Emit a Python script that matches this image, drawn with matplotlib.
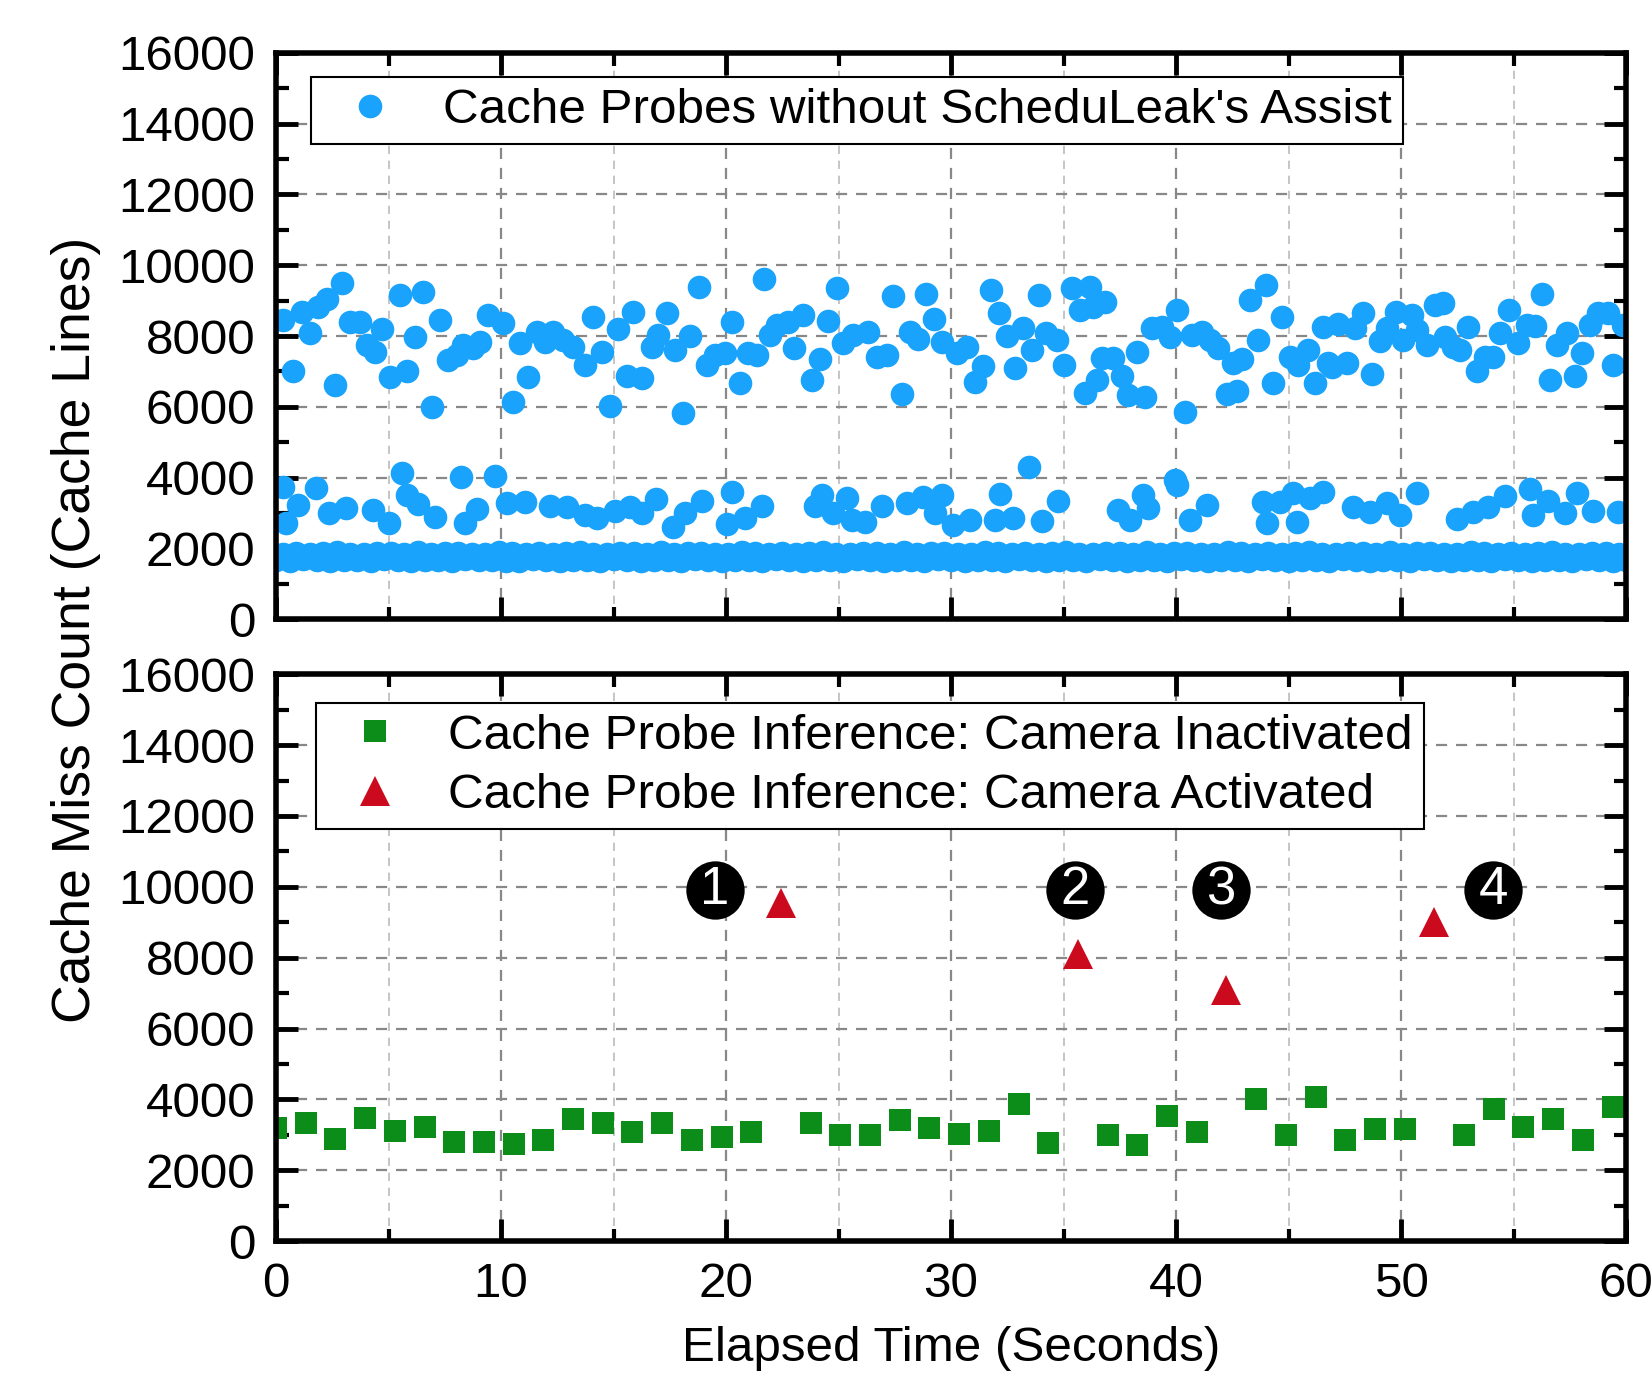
import matplotlib
matplotlib.use("Agg")
import matplotlib.pyplot as plt
from matplotlib.ticker import MultipleLocator


# --- data (time in s, counts in cache lines) ---
upper_time = [0.33, 0.77, 1.14, 1.51, 1.88, 2.25, 2.62, 2.92, 3.29, 3.73, 4.03, 4.40, 4.70, 5.07,
              5.51, 5.81, 6.18, 6.55, 6.92, 7.29, 7.66, 8.03, 8.33, 8.77, 9.07, 9.44, 10.10, 10.55,
              10.84, 11.21, 11.59, 11.96, 12.33, 12.77, 13.20, 13.73, 14.10, 14.47, 14.84, 15.20,
              15.60, 15.88, 16.25, 16.69, 16.99, 17.36, 17.73, 18.10, 18.40, 18.80, 19.17, 19.51,
              19.96, 20.25, 20.62, 20.99, 21.36, 21.69, 21.96, 22.25, 22.77, 23.00, 23.44, 23.80,
              24.18, 24.55, 24.92, 25.21, 25.66, 26.32, 26.70, 27.14, 27.44, 27.81, 28.18, 28.55,
              28.89, 29.24, 29.59, 30.25, 30.70, 31.07, 31.40, 31.76, 32.15, 32.50, 32.84, 33.21,
              33.58, 33.91, 34.24, 34.70, 35.02, 35.36, 35.73, 35.96, 36.17, 36.30, 36.47, 36.70,
              36.84, 37.21, 37.58, 37.88, 38.25, 38.62, 38.92, 39.37, 39.73, 40.03, 40.40, 40.70,
              41.14, 41.51, 41.88, 42.25, 42.55, 42.70, 42.92, 43.29, 43.66, 44.00, 44.33, 44.70,
              45.07, 45.44, 45.88, 46.17, 46.55, 46.77, 46.92, 47.21, 47.58, 47.95, 48.33, 48.70,
              49.07, 49.36, 49.78, 50.10, 50.47, 50.70, 51.14, 51.51, 51.87, 51.95, 52.33, 52.62,
              52.99, 53.36, 53.73, 54.10, 54.40, 54.81, 55.21, 55.58, 55.96, 56.26, 56.62, 56.95,
              57.36, 57.73, 58.03, 58.40, 58.77, 59.21, 59.44, 59.88]
upper_count = [8450, 7020, 8680, 8090, 8830, 9060, 6620, 9510, 8400, 8400, 7750, 7560, 8200, 6830,
               9160, 7020, 7960, 9230, 6010, 8450, 7320, 7460, 7750, 7650, 7840, 8590, 8360, 6150,
               7790, 6830, 8120, 7840, 8120, 7890, 7700, 7180, 8550, 7560, 6030, 8200,
               6860, 8670, 6810, 7700, 8030, 8640, 7610, 5840, 8000, 9390, 7180, 7460,
               7510, 8400, 6680, 7510, 7460, 9600, 8030, 8310, 8400, 7650, 8590, 6760,
               7340, 8430, 9350, 7790, 8030, 8120, 7420, 7460, 9130, 6360, 8120, 7930,
               9190, 8470, 7840, 7510, 7700, 6710, 7150, 9300, 8660, 8000, 7090, 8220,
               7610, 9160, 8080, 7890, 7180, 9370, 8730, 6380, 9390, 8830, 6760, 7370,
               8970, 7370, 6860, 6340, 7560, 6290, 8220, 8260, 7960, 8730, 5860, 8030,
               8120, 7890, 7650, 6360, 7230, 6460, 7340, 9020, 7890, 9440, 6680, 8550,
               7420, 7180, 7610, 6670, 8250, 7230, 7140, 8340, 7250, 8220, 8640, 6930,
               7870, 8220, 8690, 7890, 8590, 8170, 7750, 8880, 8940, 7980, 7700, 7610,
               8250, 7020, 7420, 7420, 8090, 8730, 7790, 8310, 8280, 9190, 6760, 7750,
               8080, 6870, 7510, 8310, 8640, 8640, 7180, 8310]

middle_time = [0.33, 0.44, 0.99, 1.78, 2.37, 3.11, 4.33, 5.00, 5.58, 5.81, 6.33, 7.07, 8.21, 8.40,
               8.95, 9.73, 10.25, 11.07, 12.18, 12.92, 13.73, 14.25, 15.07, 15.73, 16.25, 16.89,
               17.66, 18.18, 18.92, 20.03, 20.28, 20.84, 21.59, 23.96, 24.25, 24.77, 25.36, 25.59,
               26.18, 26.92, 28.03, 28.77, 29.29, 29.59, 30.10, 30.84, 31.96, 32.18, 32.74, 33.48,
               34.03, 34.77, 37.44, 37.96, 38.55, 38.77, 39.96, 40.03, 40.62, 41.36, 43.88, 44.03,
               44.62, 45.21, 45.36, 45.96, 46.55, 47.88, 48.62, 49.36, 49.96, 50.70, 52.47, 53.21,
               53.88, 54.62, 55.73, 55.88, 56.55, 57.29, 57.81, 58.55, 59.66]
middle_count = [3750, 2710, 3230, 3720, 3000, 3140, 3090, 2730, 4140, 3510, 3260, 2900, 4010, 2710,
                3110, 4050, 3280, 3310, 3200, 3180, 2950, 2850, 3060, 3180, 3000, 3390,
                2600, 3000, 3330, 2690, 3610, 2860, 3200, 3200, 3510, 3000, 3420, 2810,
                2760, 3200, 3300, 3460, 3000, 3510, 2670, 2810, 2810, 3530, 2850, 4310,
                2790, 3350, 3090, 2810, 3510, 3140, 3940, 3800, 2810, 3230, 3320, 2710,
                3320, 3560, 2760, 3420, 3610, 3160, 3040, 3280, 2950, 3560, 2830, 3040,
                3180, 3490, 3670, 2950, 3330, 3000, 3580, 3070, 3040]

# dense baseline band: a lower row and an upper row of samples
band_low_time = [0.0, 0.6, 1.2, 1.8, 2.4, 3.0, 3.6, 4.2, 4.8, 5.4, 6.0, 6.6, 7.2, 7.8, 8.4, 9.0,
                 9.6, 10.2, 10.8, 11.4, 12.0, 12.6, 13.2, 13.8, 14.4, 15.0, 15.6, 16.2, 16.8, 17.4,
                 18.0, 18.6, 19.2, 19.8, 20.4, 21.0, 21.6, 22.2, 22.8, 23.4, 24.0, 24.6, 25.2,
                 25.8, 26.4, 27.0, 27.6, 28.2, 28.8, 29.4, 30.0, 30.6, 31.2, 31.8, 32.4, 33.0,
                 33.6, 34.2, 34.8, 35.4, 36.0, 36.6, 37.2, 37.8, 38.4, 39.0, 39.6, 40.2, 40.8,
                 41.4, 42.0, 42.6, 43.2, 43.8, 44.4, 45.0, 45.6, 46.2, 46.8, 47.4, 48.0, 48.6,
                 49.2, 49.8, 50.4, 51.0, 51.6, 52.2, 52.8, 53.4, 54.0, 54.6, 55.2, 55.8, 56.4,
                 57.0, 57.6, 58.2, 58.8, 59.4, 60.0]
band_low_count = [1680, 1660, 1700, 1670, 1650, 1690, 1680, 1660, 1700, 1670, 1640, 1690, 1680,
                  1650, 1700, 1670, 1690, 1660, 1650, 1700, 1680, 1650, 1690, 1670, 1660, 1700,
                  1680, 1640, 1690, 1680, 1660, 1700, 1670, 1650, 1690, 1680, 1650, 1700, 1670,
                  1660, 1690, 1680, 1650, 1700, 1670, 1650, 1690, 1680, 1660, 1700, 1680, 1650,
                  1690, 1670, 1640, 1700, 1680, 1660, 1690, 1670, 1650, 1700, 1680, 1650, 1690,
                  1680, 1660, 1700, 1670, 1650, 1690, 1680, 1660, 1700, 1670, 1650, 1690, 1680,
                  1650, 1700, 1670, 1660, 1690, 1680, 1650, 1700, 1680, 1650, 1690, 1670, 1660,
                  1700, 1680, 1650, 1690, 1670, 1650, 1700, 1680, 1660, 1690]
band_high_time = [0.3, 0.9, 1.5, 2.1, 2.7, 3.3, 3.9, 4.5, 5.1, 5.7, 6.3, 6.9, 7.5, 8.1, 8.7, 9.3,
                  9.9, 10.5, 11.1, 11.7, 12.3, 12.9, 13.5, 14.1, 14.7, 15.3, 15.9, 16.5, 17.1,
                  17.7, 18.3, 18.9, 19.5, 20.1, 20.7, 21.3, 21.9, 22.5, 23.1, 23.7, 24.3, 24.9,
                  25.5, 26.1, 26.7, 27.3, 27.9, 28.5, 29.1, 29.7, 30.3, 30.9, 31.5, 32.1, 32.7,
                  33.3, 33.9, 34.5, 35.1, 35.7, 36.3, 36.9, 37.5, 38.1, 38.7, 39.3, 39.9, 40.5,
                  41.1, 41.7, 42.3, 42.9, 43.5, 44.1, 44.7, 45.3, 45.9, 46.5, 47.1, 47.7, 48.3,
                  48.9, 49.5, 50.1, 50.7, 51.3, 51.9, 52.5, 53.1, 53.7, 54.3, 54.9, 55.5, 56.1,
                  56.7, 57.3, 57.9, 58.5, 59.1, 59.7]
band_high_count = [1860, 1880, 1850, 1870, 1890, 1860, 1850, 1880, 1870, 1860, 1890, 1850, 1870,
                   1880, 1860, 1850, 1890, 1870, 1860, 1880, 1850, 1870, 1890, 1860, 1850, 1880,
                   1870, 1860, 1890, 1850, 1870, 1880, 1860, 1850, 1890, 1870, 1860, 1880, 1850,
                   1870, 1890, 1860, 1850, 1880, 1870, 1860, 1890, 1850, 1870, 1880, 1860, 1850,
                   1890, 1870, 1860, 1880, 1850, 1870, 1890, 1860, 1850, 1880, 1870, 1860, 1890,
                   1850, 1870, 1880, 1860, 1850, 1890, 1870, 1860, 1880, 1850, 1870, 1890, 1860,
                   1850, 1880, 1870, 1860, 1890, 1850, 1870, 1880, 1860, 1850, 1890, 1870, 1860,
                   1880, 1850, 1870, 1890, 1860, 1850, 1880, 1870, 1860]

inactive_time = [0.0, 1.32, 2.64, 3.96, 5.28, 6.60, 7.92, 9.24, 10.56, 11.88, 13.20, 14.52, 15.84,
                 17.16, 18.48, 19.80, 21.12, 23.76, 25.08, 26.40, 27.72, 29.04, 30.36, 31.68,
                 33.00, 34.32, 36.96, 38.28, 39.60, 40.92, 43.56, 44.88, 46.20, 47.52, 48.84,
                 50.16, 52.80, 54.12, 55.44, 56.76, 58.08, 59.40]
inactive_count = [3200, 3330, 2890, 3480, 3100, 3210, 2800, 2800, 2740, 2860, 3450, 3330, 3070,
                  3330, 2860, 2950, 3070, 3330, 3000, 3000, 3420, 3180, 3030, 3120,
                  3870, 2770, 3000, 2710, 3540, 3070, 4020, 3000, 4080, 2860, 3150,
                  3150, 3000, 3720, 3210, 3450, 2860, 3780]

active_time = [22.44, 35.64, 42.24, 51.48]
active_count = [9550, 8100, 7080, 9020]

event_time = [19.5, 35.5, 42.0, 54.1]
event_count = [9900, 9900, 9900, 9900]
event_labels = ["1", "2", "3", "4"]

BLUE = "#1AA3FC"
GREEN = "#0C8C18"
RED = "#CC0A1E"
FONT = 35.6

plt.rcParams['font.family'] = ['Liberation Sans', 'DejaVu Sans']


def style_axis(ax, show_xlabels):
    ax.set_xlim(0, 60)
    ax.set_ylim(0, 16000)
    ax.xaxis.set_major_locator(MultipleLocator(10))
    ax.xaxis.set_minor_locator(MultipleLocator(5))
    ax.yaxis.set_major_locator(MultipleLocator(2000))
    ax.yaxis.set_minor_locator(MultipleLocator(1000))
    ax.tick_params(which='both', direction='in', top=True, right=True, labelsize=FONT)
    ax.tick_params(which='major', length=16, width=3.5, pad=15)
    ax.tick_params(which='minor', length=9, width=3)
    ax.tick_params(axis='x', labelbottom=show_xlabels)
    ax.grid(True, which='major', linestyle=(0, (5, 4)), color='#888888', linewidth=1.6)
    ax.grid(True, which='minor', axis='x', linestyle=(0, (5, 4)), color='#BBBBBB', linewidth=1.2)
    ax.set_axisbelow(True)
    for sp in ax.spines.values():
        sp.set_linewidth(4)


def make_legend(ax, anchor, spacing):
    leg = ax.legend(loc='upper left', bbox_to_anchor=anchor, borderaxespad=0,
                    fontsize=FONT, frameon=True, fancybox=False, edgecolor='black',
                    framealpha=1, handletextpad=0.5, borderpad=0.22, handlelength=1.95,
                    labelspacing=spacing)
    leg.get_frame().set_linewidth(1.5)


fig = plt.figure(figsize=(16.52, 13.75), dpi=100)
ax_top = fig.add_axes([0.1671, 0.5495, 0.8172, 0.4122])
ax_bot = fig.add_axes([0.1671, 0.0974, 0.8172, 0.4122])

# top panel: probes without assistance
all_time = band_low_time + band_high_time + middle_time + upper_time
all_count = band_low_count + band_high_count + middle_count + upper_count
ax_top.plot(all_time, all_count, linestyle='none', marker='o', markersize=17, color=BLUE,
            markeredgewidth=0, label="Cache Probes without ScheduLeak's Assist")
style_axis(ax_top, False)
make_legend(ax_top, (0.026, 0.957), 0.2)

# bottom panel: inference results
ax_bot.plot(inactive_time, inactive_count, linestyle='none', marker='s', markersize=16,
            color=GREEN, markeredgewidth=0, label="Cache Probe Inference: Camera Inactivated")
ax_bot.plot(active_time, active_count, linestyle='none', marker='^', markersize=21,
            color=RED, markeredgewidth=0, label="Cache Probe Inference: Camera Activated")
ax_bot.plot(event_time, event_count, linestyle='none', marker='o', markersize=42,
            color='black', markeredgewidth=0)
for t, c, lab in zip(event_time, event_count, event_labels):
    ax_bot.text(t, c, lab, color='white', fontsize=38, ha='center', va='center')
style_axis(ax_bot, True)
make_legend(ax_bot, (0.0297, 0.95), 0.29)
ax_bot.set_xlabel("Elapsed Time (Seconds)", fontsize=FONT, labelpad=14)

fig.text(0.046, 0.542, "Cache Miss Count (Cache Lines)", rotation=90, fontsize=38.5,
         ha='center', va='center')

fig.savefig("out.png", dpi=100)
